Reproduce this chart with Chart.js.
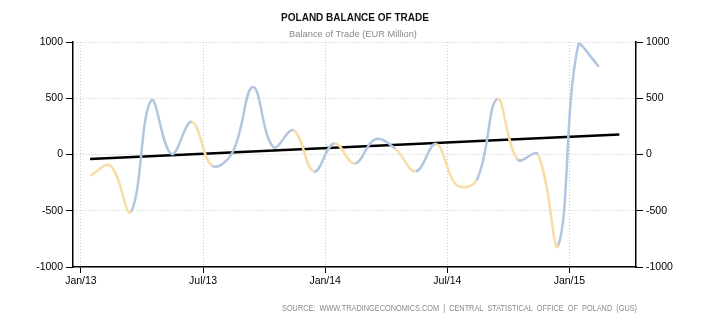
<!DOCTYPE html>
<html>
<head>
<meta charset="utf-8">
<script src="https://cdn.jsdelivr.net/npm/chart.js@4/dist/chart.umd.min.js"></script>
<style>
  html, body { margin: 0; padding: 0; background: #fff; }
  #wrap { width: 710px; height: 325px; position: relative; }
</style>
</head>
<body>
<div id="wrap"><canvas id="trade"></canvas></div>
<script>
// monthly balance of trade, EUR million, Jan 2013 .. Feb 2015
const balance = [-190, -100, -510, 480, 5, 290, -100, 20, 600, 65, 215, -150,
                 100, -80, 135, 50, -150, 95, -270, -226, 495, -45, 0, -810,
                 985, 780];
// 1 = month-to-month stretch shown in the second tone
const segmentFlag = [1, 1, 0, 0, 0, 1, 0, 0, 0, 0, 1, 0,
                     1, 0, 0, 1, 0, 1, 1, 0, 1, 0, 1, 0, 0];
// linear trend, value at first and last month index
const trendMonths = [0, 26];
const trendValues = [-40, 177];

const tickMonths = [0, 6, 12, 18, 24];
const tickLabels = ['Jan/13', 'Jul/13', 'Jan/14', 'Jul/14', 'Jan/15'];
const yTicks = [-1000, -500, 0, 500, 1000];

const BLUE = '#b3c6e0';
const SAND = '#f9dca6';

// data points sit in the middle of each month
function midMonth(i){
    return i + 0.45
}

var linePts = balance.map(function(v, i){ return {x: midMonth(i), y: v} })
var trendPts = trendMonths.map(function(m, i){ return {x: midMonth(m), y: trendValues[i]} })

const labelFont = {family: 'Liberation Sans', size: 10.5}

const textPlugin = {
    id: 'texts',
    afterDraw(chart){
        const ctx = chart.ctx
        ctx.save()
        ctx.textAlign = 'center'
        ctx.textBaseline = 'middle'
        ctx.fillStyle = '#111'
        ctx.font = 'bold 10px "Liberation Sans"'
        ctx.fillText('POLAND BALANCE OF TRADE', 355, 18)
        ctx.fillStyle = '#8a8a8a'
        ctx.font = '9.3px "Liberation Sans"'
        ctx.fillText('Balance of Trade (EUR Million)', 353, 34)
        ctx.textAlign = 'right'
        ctx.font = '9px "Liberation Sans"'
        ctx.fillStyle = '#8a8a8a'
        ctx.fillText('SOURCE:  WWW.TRADINGECONOMICS.COM  |  CENTRAL  STATISTICAL  OFFICE  OF  POLAND  (GUS)', 637, 309, 355)
        ctx.restore()
    }
}

function yAxis(pos){
    return {
        position: pos,
        min: -1000,
        max: 1000,
        afterBuildTicks: function(scale){
            scale.ticks = yTicks.map(function(v){ return {value: v} })
        },
        afterFit: function(scale){
            scale.width = pos == 'left' ? 73 : 74
        },
        ticks: {
            color: '#000',
            font: labelFont,
            padding: 3,
            callback: function(v){ return String(v) }
        },
        grid: {
            drawOnChartArea: pos == 'left',
            color: '#c8c8c8',
            tickColor: '#000',
            tickLength: 7,
            lineWidth: 1
        },
        border: {
            display: true,
            color: '#000',
            width: 1.5,
            dash: [1, 2]
        }
    }
}

const ctx = document.getElementById('trade').getContext('2d');
const myChart = new Chart(ctx, {
    type: 'line',
    data: {
        datasets: [{
            label: 'Balance of Trade',
            data: linePts,
            borderColor: BLUE,
            borderWidth: 2.5,
            tension: 0.4,
            pointRadius: 0,
            segment: {
                borderColor: function(c){ return segmentFlag[c.p0DataIndex] ? SAND : BLUE }
            }
        }, {
            label: 'Trend',
            data: trendPts,
            borderColor: '#000',
            borderWidth: 2.5,
            pointRadius: 0,
            tension: 0
        }]
    },
    options: {
        responsive: true,
        maintainAspectRatio: false,
        animation: false,
        layout: {
            padding: {top: 42, left: 0, right: 0, bottom: 0}
        },
        plugins: {
            legend: {display: false},
            tooltip: {enabled: false}
        },
        scales: {
            x: {
                type: 'linear',
                min: -0.39,
                max: 27.27,
                afterBuildTicks: function(scale){
                    scale.ticks = tickMonths.map(function(m){ return {value: m} })
                },
                afterFit: function(scale){
                    scale.height = 58
                },
                ticks: {
                    color: '#000',
                    font: labelFont,
                    padding: 2,
                    maxRotation: 0,
                    autoSkip: false,
                    callback: function(v){
                        const k = tickMonths.indexOf(v)
                        return k >= 0 ? tickLabels[k] : ''
                    }
                },
                grid: {
                    color: '#c8c8c8',
                    tickColor: '#000',
                    tickLength: 6,
                    lineWidth: 1
                },
                border: {
                    display: true,
                    color: '#000',
                    width: 1.5,
                    dash: [1, 2]
                }
            },
            y: yAxis('left'),
            y2: yAxis('right')
        }
    },
    plugins: [textPlugin]
});
</script>
</body>
</html>
